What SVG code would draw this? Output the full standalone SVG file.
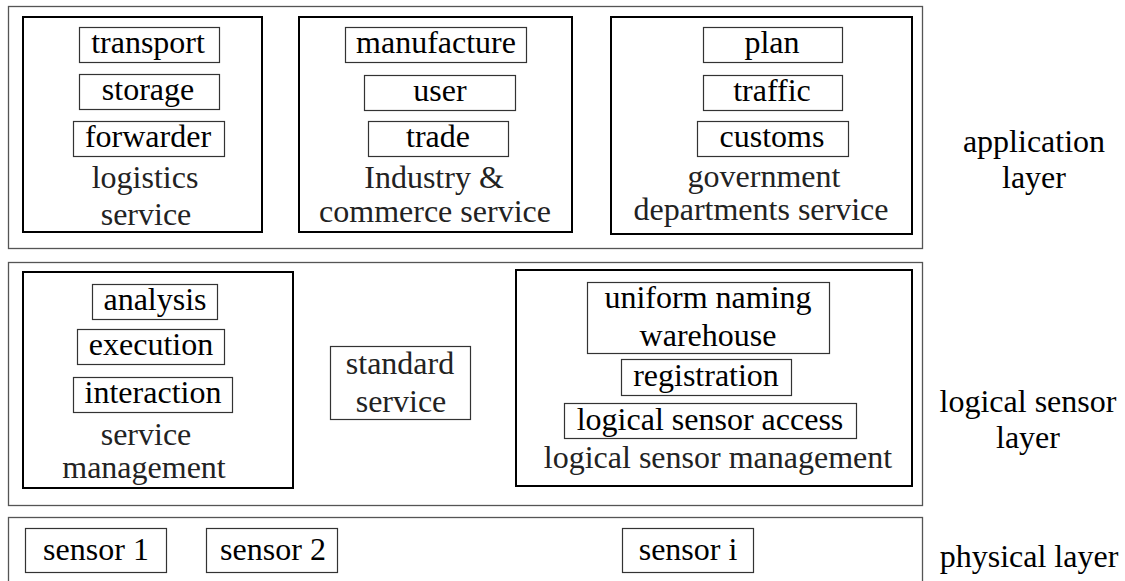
<svg xmlns="http://www.w3.org/2000/svg" width="1125" height="581" viewBox="0 0 1125 581">
<style>
.layer{fill:none;stroke:#555;stroke-width:1.3}
.group{fill:none;stroke:#000;stroke-width:2}
.item{fill:#fff;stroke:#333;stroke-width:1.2}
text{font-family:'Liberation Serif','Times New Roman',Times,Tinos,'Noto Serif','Nimbus Roman','Nimbus Roman No9 L','FreeSerif','DejaVu Serif',Georgia,serif;font-size:32px;text-anchor:middle;fill:#000}
.cap{fill:#222}
</style>
<rect width="1125" height="581" fill="#fff"/>
<g id="application-layer">
<rect class="layer" x="8.5" y="6.5" width="914" height="242"/>
<text x="1034" y="152">application</text>
<text x="1034" y="188">layer</text>
</g>
<g id="logistics-service">
<rect class="group" x="23" y="17" width="239" height="215"/>
<rect class="item" x="79.5" y="27.5" width="140" height="35"/>
<text x="148" y="53">transport</text>
<rect class="item" x="79.5" y="74.5" width="140" height="35"/>
<text x="148" y="100">storage</text>
<rect class="item" x="73.5" y="121.5" width="151" height="35"/>
<text x="148" y="147">forwarder</text>
<text class="cap" x="145" y="188">logistics</text>
<text class="cap" x="146" y="225">service</text>
</g>
<g id="industry-commerce-service">
<rect class="group" x="299" y="17" width="273" height="215"/>
<rect class="item" x="345.5" y="27.5" width="181" height="35"/>
<text x="436" y="53">manufacture</text>
<rect class="item" x="364.5" y="75.5" width="151" height="35"/>
<text x="440" y="101">user</text>
<rect class="item" x="368.5" y="121.5" width="140" height="35"/>
<text x="438" y="147">trade</text>
<text class="cap" x="434" y="188">Industry &amp;</text>
<text class="cap" x="435" y="222">commerce service</text>
</g>
<g id="government-departments-service">
<rect class="group" x="611" y="17" width="301" height="217"/>
<rect class="item" x="703.5" y="27.5" width="139" height="35"/>
<text x="772" y="53">plan</text>
<rect class="item" x="703.5" y="75.5" width="139" height="35"/>
<text x="772" y="101">traffic</text>
<rect class="item" x="697.5" y="121.5" width="151" height="35"/>
<text x="772" y="147">customs</text>
<text class="cap" x="764" y="187">government</text>
<text class="cap" x="761" y="220">departments service</text>
</g>
<g id="logical-sensor-layer">
<rect class="layer" x="8.5" y="262.5" width="914" height="243"/>
<text x="1028" y="412">logical sensor</text>
<text x="1028" y="448">layer</text>
</g>
<g id="service-management">
<rect class="group" x="23" y="272" width="270" height="216"/>
<rect class="item" x="92.5" y="284.5" width="125" height="35"/>
<text x="155" y="310">analysis</text>
<rect class="item" x="77.5" y="329.5" width="147" height="35"/>
<text x="151" y="355">execution</text>
<rect class="item" x="73.5" y="377.5" width="159" height="35"/>
<text x="153" y="403">interaction</text>
<text class="cap" x="146" y="445">service</text>
<text class="cap" x="144" y="478">management</text>
</g>
<g id="standard-service">
<rect class="item" x="330.5" y="346.5" width="140" height="73"/>
<text class="cap" x="400" y="374">standard</text>
<text class="cap" x="401" y="412">service</text>
</g>
<g id="logical-sensor-management">
<rect class="group" x="516" y="270" width="396" height="216"/>
<rect class="item" x="587.5" y="282.5" width="242" height="71"/>
<text x="708" y="308">uniform naming</text>
<text x="708" y="346">warehouse</text>
<rect class="item" x="621.5" y="359.5" width="170" height="36"/>
<text x="706" y="386">registration</text>
<rect class="item" x="564.5" y="403.5" width="292" height="35"/>
<text x="710" y="430">logical sensor access</text>
<text class="cap" x="718" y="468">logical sensor management</text>
</g>
<g id="physical-layer">
<rect class="layer" x="8.5" y="517.5" width="914" height="80"/>
<text x="1029" y="567">physical layer</text>
</g>
<g id="sensor-1">
<rect class="item" x="25.5" y="528.5" width="141" height="44"/>
<text x="96" y="560">sensor 1</text>
</g>
<g id="sensor-2">
<rect class="item" x="206.5" y="528.5" width="131" height="44"/>
<text x="273" y="560">sensor 2</text>
</g>
<g id="sensor-i">
<rect class="item" x="622.5" y="528.5" width="131" height="44"/>
<text x="688" y="560">sensor i</text>
</g>
<g id="connectors"></g>
</svg>
